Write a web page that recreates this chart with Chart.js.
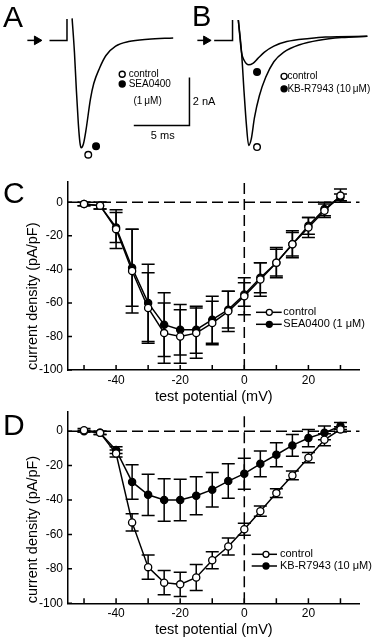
<!DOCTYPE html>
<html>
<head>
<meta charset="utf-8">
<script src="https://cdn.jsdelivr.net/npm/chart.js@4.4.1/dist/chart.umd.min.js"></script>
<style>
  html, body { margin: 0; padding: 0; background: #fff; }
  #wrap { position: relative; width: 376px; height: 640px; overflow: hidden; }
  canvas { position: absolute; left: 0; }
</style>
</head>
<body>
<div id="wrap">
  <canvas id="chartA" width="376" height="170" style="top:0"></canvas>
  <canvas id="chartB" width="376" height="170" style="top:0"></canvas>
  <canvas id="chartC" width="376" height="240" style="top:170px"></canvas>
  <canvas id="chartD" width="376" height="240" style="top:400px"></canvas>
</div>
<script>
// ---- A / B : current traces, time (ms) after the step vs current (nA)
const traceA_t = [0.46, 0.67, 0.84, 1.02, 1.16, 1.28, 1.48, 1.71, 2.11, 2.41, 2.93, 3.50, 4.37, 5.54, 7.28, 9.54];
const traceA_i = [0.92, -0.50, -2.05, -3.48, -4.25, -4.48, -4.31, -3.73, -2.44, -1.79, -1.15, -0.63, -0.24, -0.05, 0.05, 0.10];

const traceBctl_t = [0.52, 0.81, 1.04, 1.24, 1.45, 1.68, 1.97, 2.41, 2.98, 3.71, 4.58, 6.03, 7.77, 9.80, 12.11];
const traceBctl_i = [0.85, -0.50, -2.18, -3.48, -4.38, -4.12, -3.22, -2.31, -1.54, -0.89, -0.50, -0.18, 0.01, 0.12, 0.17];
const traceBkb_t = [0.52, 0.81, 1.04, 1.45, 1.83, 2.26, 2.84, 3.71, 4.87, 6.90, 8.35, 12.11];
const traceBkb_i = [0.85, -0.50, -0.83, -1.02, -0.96, -0.76, -0.50, -0.24, -0.05, 0.08, 0.14, 0.17];

const scaleBarMs = 5;
const scaleBarNa = 2;

// ---- C / D : I-V relations
const testPotential = [-50, -45, -40, -35, -30, -25, -20, -15, -10, -5, 0, 5, 10, 15, 20, 25, 30];
const cControl    = [-1, -2, -16, -41, -63, -78, -80, -78, -72, -65, -56, -46, -36, -25, -15, -5, 4];
const cControlErr = [1, 2, 11.5, 25, 21, 18, 16, 15, 13, 12, 11, 10, 9, 8, 6, 4, 4];
const cSea        = [-1, -2, -15, -39, -60, -73, -76, -76, -70, -64, -55, -45, -36, -25, -14, -4, 3];
const cSeaErr     = [1, 2, 9, 23, 23, 19, 15, 14, 14, 11, 7, 9, 8, 7, 5, 4, 2];

const dControl    = [0.5, -1, -13, -53, -79, -88, -89, -85, -75, -67, -57, -46.5, -36, -25.7, -15.4, -5, 1];
const dControlErr = [1, 1, 2, 5, 7, 7, 7, 7.5, 5, 5, 3.5, 3, 2.5, 2.5, 3, 3.5, 1.5];
const dKb         = [0, -1, -11, -29.5, -37, -40, -40, -37.5, -34, -29, -24.7, -19, -13.7, -8.3, -4, -1, 3];
const dKbErr      = [0.5, 1, 2, 10, 12, 12.4, 12, 11, 10, 10, 9, 7.5, 7, 6.3, 5, 4, 2];

const yTicks = [0, -20, -40, -60, -80, -100];

const FONT = "'Liberation Sans', Arial, Helvetica, sans-serif";
Chart.defaults.font.family = FONT;
Chart.defaults.color = '#000';
Chart.defaults.animation = false;

const zip = (xs, ys) => xs.map((x, i) => ({x: x, y: ys[i]}));

function line(data, extra) {
  return Object.assign({
    data: data, showLine: true, borderColor: '#000', borderWidth: 1.5,
    pointRadius: 0, tension: 0
  }, extra || {});
}
function dot(x, y, filled, r) {
  return {
    data: [{x: x, y: y}], showLine: false, pointRadius: r || 3.3,
    pointBackgroundColor: filled ? '#000' : '#fff', pointBorderColor: '#000', pointBorderWidth: 1.4
  };
}

// text labels in data units + panel letter in pixels
function annotate(texts, letter) {
  return {
    id: 'annotate',
    afterDraw(chart) {
      const ctx = chart.ctx, xs = chart.scales.x, ys = chart.scales.y;
      ctx.save();
      ctx.fillStyle = '#000';
      ctx.textBaseline = 'middle';
      texts.forEach(t => {
        ctx.font = t.size + 'px ' + FONT;
        ctx.textAlign = t.align || 'left';
        ctx.fillText(t.text, xs.getPixelForValue(t.x), ys.getPixelForValue(t.y));
      });
      if (letter) {
        ctx.font = letter.size + 'px ' + FONT;
        ctx.textAlign = 'left';
        ctx.textBaseline = 'alphabetic';
        ctx.fillText(letter.text, letter.x, letter.y);
      }
      ctx.restore();
    }
  };
}

// ---- trace panels
const PX_MS = 11.5, PX_NA = 25.8, BASE_Y = 37;

function traceChart(id, x0, datasets, texts, letter) {
  return new Chart(document.getElementById(id), {
    type: 'scatter',
    data: {datasets: datasets},
    options: {
      responsive: false, animation: false, events: [],
      layout: {padding: 0},
      plugins: {legend: {display: false}, tooltip: {enabled: false}},
      scales: {
        x: {type: 'linear', display: false, min: -x0 / PX_MS, max: (376 - x0) / PX_MS},
        y: {type: 'linear', display: false, min: -(170 - BASE_Y) / PX_NA, max: BASE_Y / PX_NA}
      }
    },
    plugins: [annotate(texts, letter)]
  });
}

function arrow(t1, t2) {
  return line([{x: t1, y: 0}, {x: t2, y: 0}], {
    pointRadius: [0, 5], pointStyle: 'triangle', rotation: 90,
    pointBackgroundColor: '#000', pointBorderColor: '#000', pointBorderWidth: 1
  });
}

traceChart('chartA', 63, [
  arrow(-3.56, -2.70),
  line([{x: -1.57, y: 0}, {x: 0, y: 0}, {x: 0, y: 0.89}]),
  line(zip(traceA_t, traceA_i), {cubicInterpolationMode: 'monotone'}),
  dot(1.91, -4.77, false),
  dot(2.61, -4.42, true),
  dot(4.96, -1.41, false, 3),
  dot(4.96, -1.82, true, 3),
  line([{x: 11 - scaleBarMs, y: -3.55}, {x: 11, y: -3.55}, {x: 11, y: -3.55 + scaleBarNa}])
], [
  {text: 'control', x: 5.54, y: -1.41, size: 10},
  {text: 'SEA0400', x: 5.54, y: -1.82, size: 10},
  {text: '(1\u2009\u03bcM)', x: 5.97, y: -2.53, size: 10},
  {text: scaleBarNa + ' nA', x: 11.3, y: -2.55, size: 11},
  {text: scaleBarMs + ' ms', x: 8.6, y: -4.0, size: 11, align: 'center'}
], {text: 'A', x: 3, y: 27, size: 30});

traceChart('chartB', 234, [
  arrow(-3.16, -2.37),
  line([{x: -1.65, y: 0}, {x: 0, y: 0}, {x: 0, y: 0.85}]),
  line(zip(traceBctl_t, traceBctl_i), {cubicInterpolationMode: 'monotone'}),
  line(zip(traceBkb_t, traceBkb_i), {cubicInterpolationMode: 'monotone'}),
  dot(2.20, -1.32, true),
  dot(2.20, -4.45, false),
  dot(4.63, -1.50, false, 3),
  dot(4.63, -2.02, true, 3)
], [
  {text: 'control', x: 4.93, y: -1.50, size: 10},
  {text: 'KB-R7943 (10\u2009\u03bcM)', x: 4.93, y: -2.02, size: 10}
], {text: 'B', x: 192, y: 26, size: 29});

// ---- I-V panels
const errorBars = {
  id: 'errorBars',
  beforeDatasetsDraw(chart) {
    const {ctx, scales: {x, y}} = chart;
    ctx.save();
    ctx.strokeStyle = '#000';
    ctx.lineWidth = 1.5;
    chart.data.datasets.forEach(ds => {
      if (!ds.err) return;
      ds.data.forEach((p, i) => {
        const e = ds.err[i];
        const px = x.getPixelForValue(p.x);
        const y1 = y.getPixelForValue(p.y + e), y2 = y.getPixelForValue(p.y - e);
        ctx.beginPath();
        ctx.moveTo(px, y1); ctx.lineTo(px, y2);
        ctx.moveTo(px - 6.5, y1); ctx.lineTo(px + 6.5, y1);
        ctx.moveTo(px - 6.5, y2); ctx.lineTo(px + 6.5, y2);
        ctx.stroke();
      });
    });
    ctx.restore();
  }
};

const inwardTicks = {
  id: 'inwardTicks',
  afterDatasetsDraw(chart) {
    const {ctx, chartArea: a, scales: {x, y}} = chart;
    ctx.save();
    ctx.strokeStyle = '#000';
    ctx.lineWidth = 1.5;
    ctx.beginPath();
    x.ticks.forEach(t => {
      const px = x.getPixelForValue(t.value);
      ctx.moveTo(px, a.bottom); ctx.lineTo(px, a.bottom - 5);
    });
    y.ticks.forEach(t => {
      const py = y.getPixelForValue(t.value);
      ctx.moveTo(a.left, py); ctx.lineTo(a.left + 4, py);
    });
    ctx.stroke();
    ctx.restore();
  }
};

function ivLegend(items, lx1, lx2, mx, tx, rows) {
  return {
    id: 'ivLegend',
    afterDraw(chart) {
      const ctx = chart.ctx;
      ctx.save();
      ctx.font = '11px ' + FONT;
      ctx.textBaseline = 'middle';
      ctx.textAlign = 'left';
      items.forEach((it, i) => {
        const y = rows[i];
        ctx.strokeStyle = '#000';
        ctx.lineWidth = 1.5;
        ctx.beginPath(); ctx.moveTo(lx1, y); ctx.lineTo(lx2, y); ctx.stroke();
        ctx.beginPath(); ctx.arc(mx, y, 3, 0, Math.PI * 2);
        ctx.fillStyle = it.filled ? '#000' : '#fff';
        ctx.fill();
        ctx.lineWidth = 1.3;
        ctx.stroke();
        ctx.fillStyle = '#000';
        ctx.fillText(it.label, tx, y);
      });
      ctx.restore();
    }
  };
}

function series(ys, errs, filled) {
  return line(zip(testPotential, ys), {
    err: errs, pointRadius: 3.6, pointBorderWidth: 1.3,
    pointBackgroundColor: filled ? '#000' : '#fff', pointBorderColor: '#000'
  });
}

function ivChart(id, yMax, padTop, axisH, titlePadBottom, datasets, legend, letter) {
  return new Chart(document.getElementById(id), {
    type: 'scatter',
    data: {
      datasets: datasets.concat([
        line([{x: -55, y: 0}, {x: 36, y: 0}], {borderDash: [11, 5], order: 1}),
        line([{x: 0, y: -100}, {x: 0, y: yMax}], {borderDash: [11, 5], order: 1})
      ])
    },
    options: {
      responsive: false, animation: false, events: [],
      layout: {padding: {left: 0, right: 16.3, top: padTop, bottom: 0}},
      plugins: {legend: {display: false}, tooltip: {enabled: false}},
      scales: {
        x: {
          type: 'linear', min: -55, max: 36,
          afterFit: s => { s.height = axisH; },
          grid: {display: false, drawTicks: false},
          border: {display: true, color: '#000', width: 1.5},
          ticks: {
            stepSize: 10, includeBounds: false, autoSkip: false, maxRotation: 0, padding: 3,
            font: {size: 12},
            callback: v => (v % 20 === 0 ? String(v) : '')
          },
          title: {display: true, text: 'test potential (mV)', font: {size: 14.5}, padding: {top: 0, bottom: titlePadBottom}}
        },
        y: {
          type: 'linear', min: -100, max: yMax,
          afterFit: s => { s.width = 68; },
          afterBuildTicks: s => { s.ticks = yTicks.map(v => ({value: v})); },
          grid: {display: false, drawTicks: false},
          border: {display: true, color: '#000', width: 1.5},
          ticks: {padding: 5, font: {size: 12}},
          title: {display: true, text: 'current density (pA/pF)', align: 'start', font: {size: 14.5}, padding: {top: 24, bottom: 0}}
        }
      }
    },
    plugins: [errorBars, inwardTicks, legend, annotate([], letter)]
  });
}

ivChart('chartC', 12, 9.6, 40, 4.3, [
  series(cControl, cControlErr, false),
  series(cSea, cSeaErr, true)
], ivLegend([
  {label: 'control', filled: false},
  {label: 'SEA0400 (1 \u03bcM)', filled: true}
], 256, 281.7, 269.3, 283.3, [142.3, 154.3]), {text: 'C', x: 3, y: 33, size: 30});

ivChart('chartD', 11, 11.7, 36.7, 1.3, [
  series(dControl, dControlErr, false),
  series(dKb, dKbErr, true)
], ivLegend([
  {label: 'control', filled: false},
  {label: 'KB-R7943 (10 \u03bcM)', filled: true}
], 251.7, 277, 266, 280, [154.3, 166]), {text: 'D', x: 3, y: 35, size: 30});
</script>
</body>
</html>
